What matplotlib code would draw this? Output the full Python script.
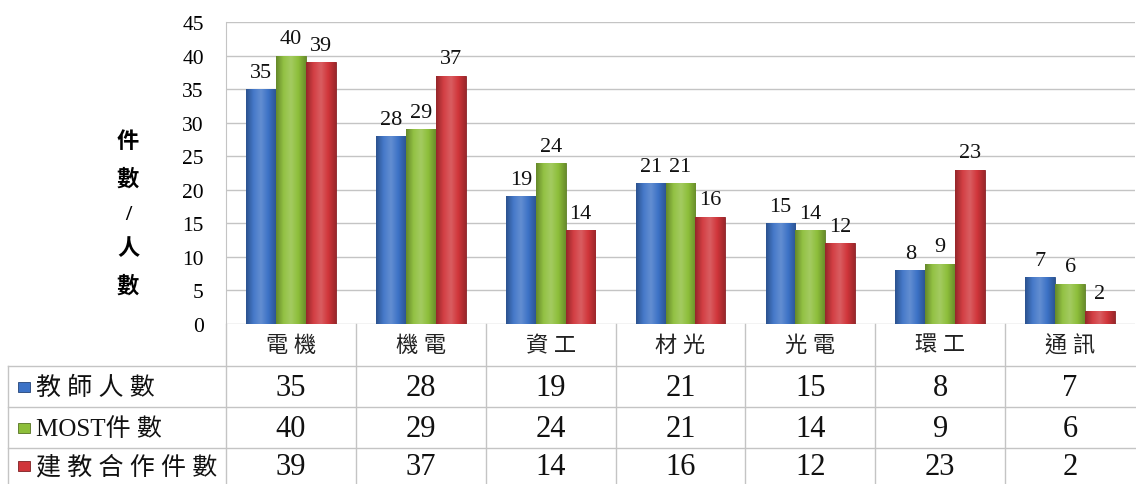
import matplotlib
matplotlib.use("Agg")
import matplotlib.pyplot as plt
import numpy as np
from matplotlib.colors import LinearSegmentedColormap, to_rgb
from matplotlib.lines import Line2D
from matplotlib.patches import Rectangle

categories = ["電機", "機電", "資工", "材光", "光電", "環工", "通訊"]
series_names = ["教師人數", "MOST件數", "建教合作件數"]
teachers = [35, 28, 19, 21, 15, 8, 7]
most = [40, 29, 24, 21, 14, 9, 6]
industry = [39, 37, 14, 16, 12, 23, 2]
yticks = [0, 5, 10, 15, 20, 25, 30, 35, 40, 45]
ylabel_chars = ["件", "數", "/", "人", "數"]

colors = ["#3C72C6", "#8DBE3A", "#D0353A"]
FAM = ["Liberation Serif", "Noto Sans CJK TC", "DejaVu Sans"]
plt.rcParams["font.family"] = FAM

def spaced(s):
    # add a little letter spacing between CJK characters, as in the original
    out = ""
    for i, ch in enumerate(s):
        out += ch
        if i < len(s) - 1 and (ord(ch) > 0x2E80 or ord(s[i + 1]) > 0x2E80) and ord(ch) > 0x2E80:
            out += " "
    return out

W, H = 1136, 485
fig = plt.figure(figsize=(W / 100, H / 100), dpi=100)
L, R, B, T = 226, 1135, 325, 23
ax = fig.add_axes([L / W, 1 - B / H, (R - L) / W, (B - T) / H])

x = np.arange(len(categories))
bw = 0.23
all_series = [teachers, most, industry]

def shade(c, f):
    r, g, b = to_rgb(c)
    if f < 1:
        return (r * f, g * f, b * f)
    f = f - 1
    return (r + (1 - r) * f, g + (1 - g) * f, b + (1 - b) * f)

for i, (vals, c) in enumerate(zip(all_series, colors)):
    bars = ax.bar(x + (i - 1) * bw, vals, bw, color=c, edgecolor=shade(c, 0.65),
                  linewidth=0.6, zorder=3)
    cmap = LinearSegmentedColormap.from_list(
        "g%d" % i, [shade(c, 0.72), shade(c, 1.05), shade(c, 1.2), shade(c, 1.0), shade(c, 0.75)])
    grad = np.linspace(0, 1, 64).reshape(1, -1)
    for bar, v in zip(bars, vals):
        x0 = bar.get_x()
        im = ax.imshow(grad, extent=[x0, x0 + bw, 0, v], aspect="auto", cmap=cmap,
                       zorder=3.5, interpolation="bilinear")
        im.set_clip_path(bar)
        ax.text(x0 + bw / 2, v + 1.1, str(v), ha="center", va="bottom",
                fontsize=16, family=FAM, color="#111111", zorder=5, clip_on=False)

ax.set_xlim(-0.5, len(categories) - 0.5)
ax.set_ylim(0, 45)
ax.set_yticks(yticks)
ax.set_yticklabels([str(t) for t in yticks], fontsize=15.5)
ax.tick_params(axis="y", length=0, pad=16)
ax.set_xticks([])
ax.grid(axis="y", color="#C4C4C4", linewidth=1.0, zorder=0)
for s in ["top", "right", "bottom"]:
    ax.spines[s].set_visible(False)
ax.spines["left"].set_color("#C4C4C4")

# y label, stacked characters
fig.text(128 / W, 1 - 215 / H, "\n".join(ylabel_chars), ha="center", va="center",
         fontsize=16, fontweight="bold", linespacing=1.95, family=FAM)

# data table below the plot
lc = "#C4C4C4"
rows_y = [325, 367, 408, 449, 485]
left_x = 8
col_edges = [L + (R - L) * k / len(categories) for k in range(len(categories) + 1)]

def fx(px):
    return px / W

def fy(py):
    return 1 - py / H

for yy in rows_y[1:4]:
    fig.add_artist(Line2D([fx(left_x), fx(R)], [fy(yy), fy(yy)], color=lc, lw=1.0))
fig.add_artist(Line2D([fx(left_x), fx(left_x)], [fy(rows_y[1]), fy(485)], color=lc, lw=1.0))
for ex in col_edges[:-1]:
    fig.add_artist(Line2D([fx(ex), fx(ex)], [fy(rows_y[0]), fy(485)], color=lc, lw=1.0))

for k, cat in enumerate(categories):
    cx = (col_edges[k] + col_edges[k + 1]) / 2
    fig.text(fx(cx), fy((rows_y[0] + rows_y[1]) / 2 + 1), spaced(cat), ha="center", va="center",
             fontsize=16, family=FAM, color="#222222")
    for r, vals in enumerate(all_series):
        cy = (rows_y[r + 1] + rows_y[r + 2]) / 2
        fig.text(fx(cx), fy(cy + 1), str(vals[k]), ha="center", va="center",
                 fontsize=22, family=FAM, color="#111111")

for r, (name, c) in enumerate(zip(series_names, colors)):
    cy = (rows_y[r + 1] + rows_y[r + 2]) / 2
    fig.add_artist(Rectangle((fx(18), fy(cy + 5)), 12 / W, 10 / H, facecolor=c,
                             edgecolor=shade(c, 0.6), lw=0.6))
    fig.text(fx(36), fy(cy + 1), spaced(name), ha="left", va="center", fontsize=18,
             family=FAM, color="#111111")

fig.savefig("out.png", dpi=100)
